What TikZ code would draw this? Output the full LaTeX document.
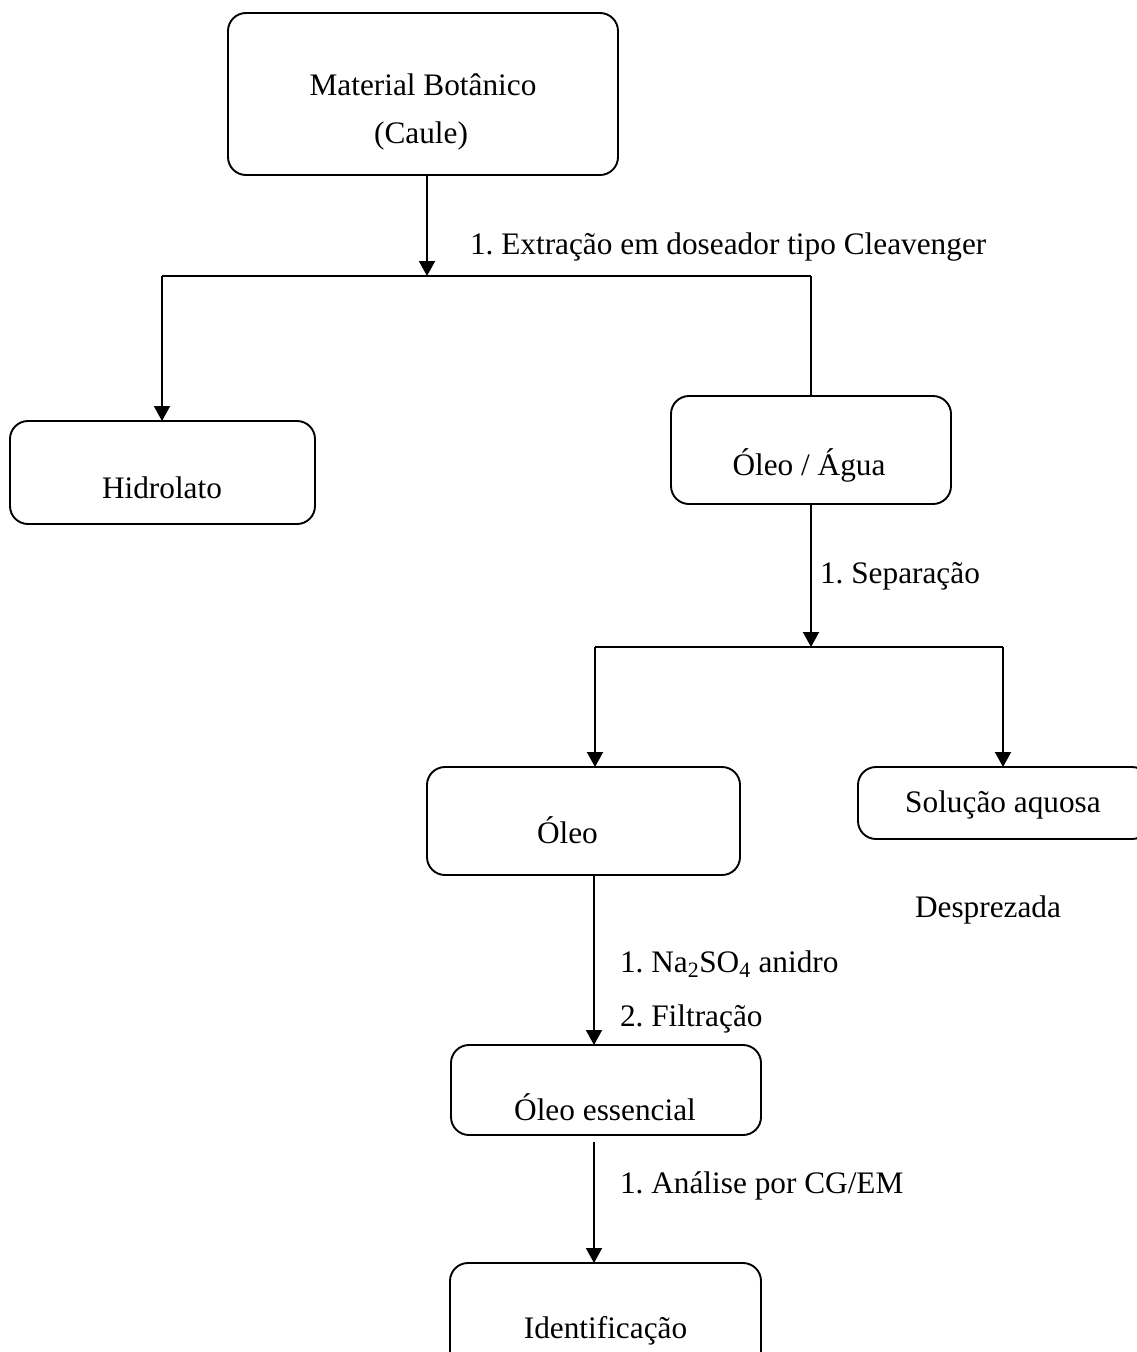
\documentclass[tikz,border=0pt]{standalone}
\usepackage{fontspec}
\setmainfont{Liberation Serif}
\frenchspacing
\usetikzlibrary{arrows.meta}
\begin{document}
\begin{tikzpicture}[x=1pt,y=-1pt,
  every node/.style={font=\fontsize{31.3}{40}\selectfont, inner sep=0pt, outer sep=0pt},
  box/.style={draw, line width=1.9pt, rounded corners=18pt, minimum width=#1},
  txt/.style={anchor=base},
  lbl/.style={anchor=base west},
  conn/.style={line width=1.9pt},
  arr/.style={conn, -{Triangle[width=16pt,length=15pt]}}]
\useasboundingbox (0,0) rectangle (1136,1352);
% boxes
\node[box=390pt, minimum height=162pt] (mat) at (423,94) {};
\node[box=305pt, minimum height=103pt] (hid) at (162.5,472.5) {};
\node[box=280pt, minimum height=108pt] (oa) at (811,450) {};
\node[box=313pt, minimum height=108pt] (oleo) at (583.5,821) {};
\node[box=292pt, minimum height=72pt] (sol) at (1004,803) {};
\node[box=310pt, minimum height=90pt] (oe) at (606,1090) {};
\node[box=311pt, minimum height=107pt] (ide) at (605.5,1316.5) {};
% texts in boxes
\node[txt] (tmat1) at (423,95) {Material Botânico};
\node[txt] (tmat2) at (421,143) {(Caule)};
\node[txt] (thid) at (162,498) {Hidrolato};
\node[txt] (toa) at (809,475) {Óleo / Água};
\node[lbl] (toleo) at (537,843) {Óleo};
\node[txt] (tsol) at (1003,812) {Solução aquosa};
\node[txt] (toe) at (605,1120) {Óleo essencial};
\node[txt] (tide) at (605.5,1338) {Identificação};
% labels
\node[lbl] (l1) at (470,254) {1. Extração em doseador tipo Cleavenger};
\node[lbl] (l2) at (820,583) {1. Separação};
\node[lbl] (l3) at (915,917) {Desprezada};
\node[lbl] (l4) at (620,972) {1. Na\textsubscript{2}SO\textsubscript{4} anidro};
\node[lbl] (l5) at (620,1026) {2. Filtração};
\node[lbl] (l6) at (620,1193) {1. Análise por CG/EM};
% connectors
\coordinate (j1) at (427,276);
\coordinate (j1l) at (162,276);
\coordinate (j1r) at (811,276);
\draw[arr] (j1 |- mat.south) -- (j1);
\draw[conn] (j1l) -- (j1r);
\draw[arr] (j1l) -- (j1l |- hid.north);
\draw[conn] (j1r) -- (j1r |- oa.north);
\coordinate (j2) at (811,647);
\coordinate (j2l) at (595,647);
\coordinate (j2r) at (1003,647);
\draw[arr] (j2 |- oa.south) -- (j2);
\draw[conn] (j2l) -- (j2r);
\draw[arr] (j2l) -- (j2l |- oleo.north);
\draw[arr] (j2r) -- (j2r |- sol.north);
\coordinate (s3) at (594,0);
\draw[arr] (s3 |- oleo.south) -- (s3 |- oe.north);
\draw[arr] ([yshift=-7pt]s3 |- oe.south) -- (s3 |- ide.north);
\end{tikzpicture}
\end{document}
